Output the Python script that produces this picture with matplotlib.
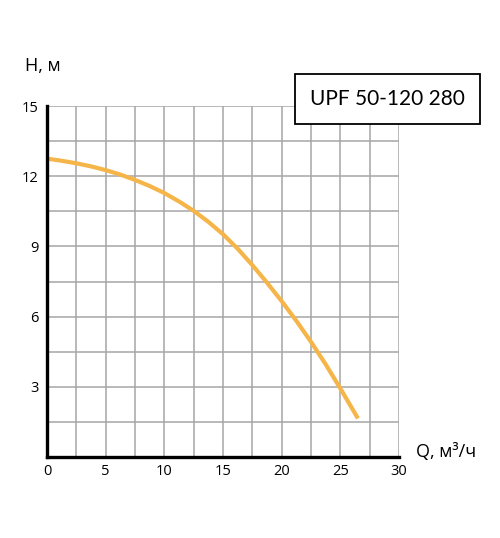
import matplotlib
matplotlib.use("Agg")
import matplotlib.pyplot as plt
from matplotlib.patches import Rectangle

Q = [0, 1.25, 2.5, 3.75, 5, 6.25, 7.5, 8.75, 10, 11.25, 12.5, 13.75, 15, 16.25,
     17.5, 18.75, 20, 21.25, 22.5, 23.75, 25, 26.5]
H = [12.75, 12.66, 12.55, 12.42, 12.26, 12.07, 11.84, 11.58, 11.28, 10.92, 10.52,
     10.05, 9.52, 8.90, 8.20, 7.45, 6.66, 5.82, 4.92, 3.96, 2.93, 1.65]
x_ticks = [0, 5, 10, 15, 20, 25, 30]
y_ticks = [3, 6, 9, 12, 15]
title = "UPF 50-120 280"
x_label = "Q, м³/ч"
y_label = "H, м"

plt.rcParams['font.family'] = ['Open Sans', 'DejaVu Sans']

W, Hh = 500, 538
fig = plt.figure(figsize=(W / 100, Hh / 100), dpi=100)
ax = fig.add_axes([47 / W, (Hh - 457) / Hh, 352 / W, 351 / Hh])

ax.set_xlim(0, 30)
ax.set_ylim(0, 15)
ax.set_xticks([i * 2.5 for i in range(13)], minor=True)
ax.set_yticks([i * 1.5 for i in range(11)], minor=True)
ax.set_xticks(x_ticks)
ax.set_yticks(y_ticks)
ax.grid(which='both', color='#a6a6a6', linewidth=1.1)
ax.tick_params(which='both', length=0)
ax.tick_params(axis='both', labelsize=10.5, pad=6)
ax.tick_params(axis='x', pad=5)

for s in ['top', 'right']:
    ax.spines[s].set_visible(False)
for s in ['left', 'bottom']:
    ax.spines[s].set_linewidth(2.4)
    ax.spines[s].set_color('black')
    ax.spines[s].set_zorder(5)
    ax.spines[s].set_capstyle('projecting')

ax.plot(Q, H, color='#F5B548', linewidth=3.0, solid_capstyle='butt',
        solid_joinstyle='round', zorder=4)

fig.text(25 / W, 1 - 66 / Hh, y_label, fontsize=13, va='center', ha='left')
fig.text(416 / W, 1 - 452 / Hh, x_label, fontsize=13, va='center', ha='left')

rect = Rectangle((295 / W, 1 - 124 / Hh), 185 / W, 50 / Hh, transform=fig.transFigure,
                 facecolor='white', edgecolor='black', linewidth=1.3, zorder=10)
fig.patches.append(rect)
fig.text(387 / W, 1 - 99 / Hh, title, fontsize=15, va='center', ha='center', zorder=11,
         family=['Lato', 'DejaVu Sans'])

fig.savefig('out.png', dpi=100)
